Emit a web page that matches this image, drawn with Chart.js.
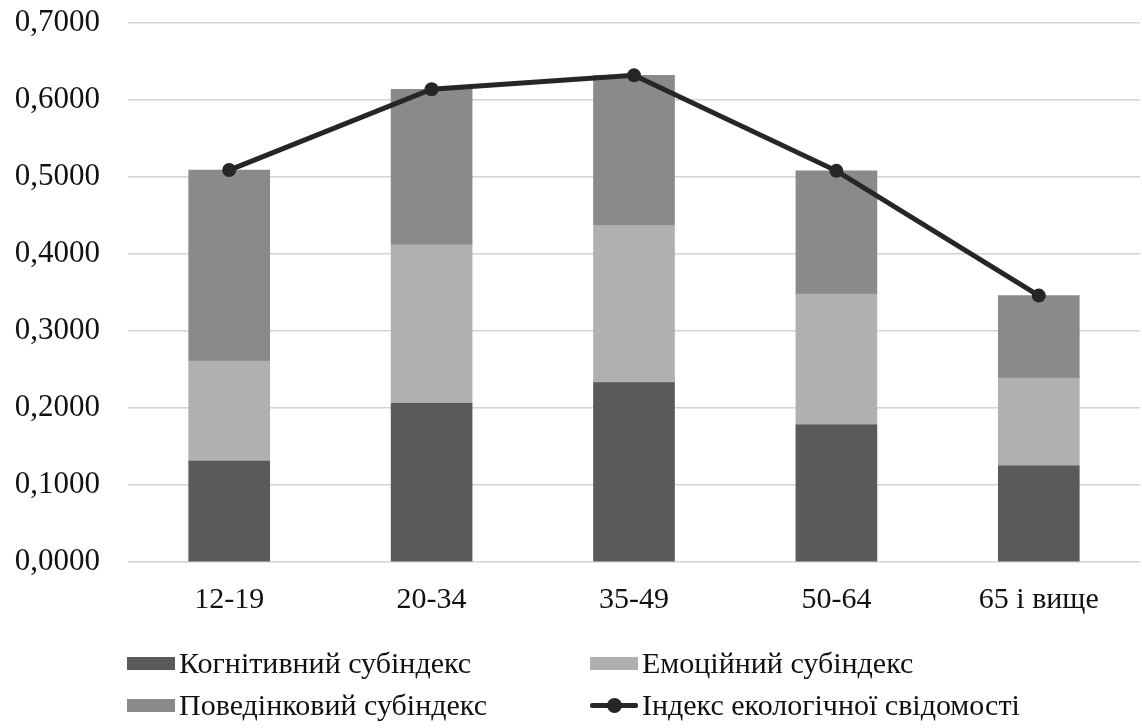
<!DOCTYPE html>
<html lang="uk">
<head>
<meta charset="utf-8">
<title>Індекс екологічної свідомості за віком</title>
<script src="https://cdn.jsdelivr.net/npm/chart.js@4.4.1/dist/chart.umd.min.js"></script>
<style>
  html, body { margin: 0; padding: 0; background: #fff; overflow: hidden; }
  #wrap { position: relative; width: 1142px; height: 728px; overflow: hidden; }
  #box { position: absolute; left: 0; top: 0; width: 1147px; height: 728px; }
  .legend { position: absolute; left: 0; top: 0; width: 1142px; height: 728px; pointer-events: none;
            font-family: "Liberation Serif", "Times New Roman", serif; font-size: 30px; color: #111; }
  .item { position: absolute; display: flex; align-items: center; white-space: nowrap; height: 36px; }
  .sw { width: 48px; height: 13px; margin-right: 4px; }
  .ln { position: relative; width: 48px; height: 13px; margin-right: 4px; }
  .ln::before { content: ""; position: absolute; left: 0; right: 0; top: 4px; height: 5px; background: #262626; border-radius: 2px; }
  .ln::after { content: ""; position: absolute; left: 17px; top: -1px; width: 15px; height: 15px; border-radius: 50%; background: #262626; }
</style>
</head>
<body>
<div id="wrap">
  <div id="box"><canvas id="chart"></canvas></div>
  <div class="legend" id="legend"></div>
</div>
<script>
// Age groups
const categories = ['12-19', '20-34', '35-49', '50-64', '65 і вище'];

// Sub-index contributions (stacked)
const cognitive  = [0.131, 0.206, 0.233, 0.178, 0.125];
const emotional  = [0.130, 0.206, 0.204, 0.170, 0.114];
const behavioral = [0.248, 0.202, 0.195, 0.160, 0.107];

// Overall ecological awareness index
const awarenessIndex = [0.509, 0.614, 0.632, 0.508, 0.346];

const seriesNames = ['Когнітивний субіндекс', 'Емоційний субіндекс', 'Поведінковий субіндекс', 'Індекс екологічної свідомості'];
const colors = { cognitive: '#5a5a5a', emotional: '#b0b0b0', behavioral: '#8a8a8a', line: '#262626' };

const FONT = '"Liberation Serif", "Times New Roman", serif';

new Chart(document.getElementById('chart'), {
  data: {
    labels: categories,
    datasets: [
      { type: 'line', label: seriesNames[3], data: awarenessIndex, stack: 'index',
        borderColor: colors.line, backgroundColor: colors.line, borderWidth: 5,
        pointRadius: 7, pointHoverRadius: 7, pointBackgroundColor: colors.line, pointBorderWidth: 0,
        tension: 0, order: 0 },
      { type: 'bar', label: seriesNames[0], data: cognitive, backgroundColor: colors.cognitive,
        barThickness: 81, stack: 'sub', order: 1 },
      { type: 'bar', label: seriesNames[1], data: emotional, backgroundColor: colors.emotional,
        barThickness: 81, stack: 'sub', order: 1 },
      { type: 'bar', label: seriesNames[2], data: behavioral, backgroundColor: colors.behavioral,
        barThickness: 81, stack: 'sub', order: 1 }
    ]
  },
  options: {
    responsive: true,
    maintainAspectRatio: false,
    animation: false,
    layout: { padding: { top: 23, right: 0, bottom: 0, left: 0 } },
    plugins: { legend: { display: false }, tooltip: { enabled: false } },
    scales: {
      x: {
        stacked: true,
        grid: { display: false, drawTicks: false },
        border: { display: false },
        ticks: { color: '#111', font: { family: FONT, size: 30 }, padding: 20, maxRotation: 0, autoSkip: false },
        afterFit: s => { s.height = 166; s.paddingLeft = 0; s.paddingRight = 0; }
      },
      y: {
        stacked: true,
        min: 0, max: 0.7,
        grid: { color: '#d4d4d4', lineWidth: 1.5, drawTicks: false },
        border: { display: false },
        ticks: { stepSize: 0.1, color: '#111', font: { family: FONT, size: 31 }, padding: 28,
                 callback: v => Number(v).toFixed(4).replace('.', ',') },
        afterFit: s => { s.width = 128; s.paddingTop = 0; s.paddingBottom = 0; }
      }
    }
  }
});

// Two-column legend below the plot
const legendItems = [
  { name: seriesNames[0], cls: 'sw', color: colors.cognitive,  x: 127, y: 645 },
  { name: seriesNames[1], cls: 'sw', color: colors.emotional,  x: 590, y: 645 },
  { name: seriesNames[2], cls: 'sw', color: colors.behavioral, x: 127, y: 687 },
  { name: seriesNames[3], cls: 'ln', color: null,              x: 590, y: 687 }
];
const legend = document.getElementById('legend');
legendItems.forEach(it => {
  const el = document.createElement('div');
  el.className = 'item';
  el.style.left = it.x + 'px';
  el.style.top = it.y + 'px';
  const sym = document.createElement('span');
  sym.className = it.cls;
  if (it.color) sym.style.background = it.color;
  const txt = document.createElement('span');
  txt.textContent = it.name;
  el.appendChild(sym);
  el.appendChild(txt);
  legend.appendChild(el);
});
</script>
</body>
</html>
